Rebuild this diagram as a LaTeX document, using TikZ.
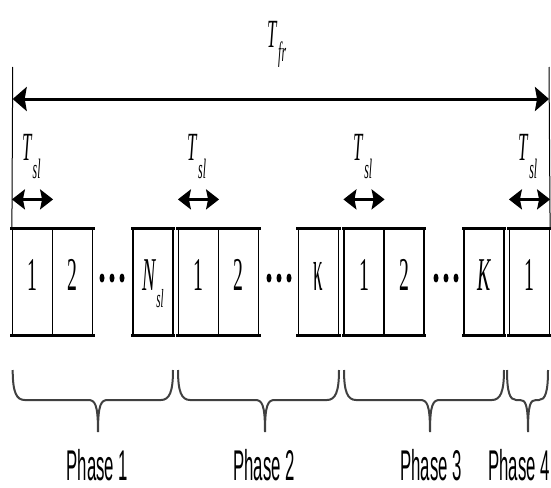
\documentclass[tikz,border=0pt]{standalone}
\usepackage{graphicx}
\usepackage{fontspec}
\setmainfont{Liberation Serif}
\newfontfamily\phasefont{Liberation Sans}
\usetikzlibrary{arrows.meta,shapes.geometric}
\newcommand\sq[1]{\scalebox{0.42}[1]{#1}}
\newcommand\tsub[4]{\textit{#1}\raisebox{-#4}{\fontsize{#3}{#3}\selectfont\textit{#2}}}
\newcommand\phasebrace[5]{%
  \draw[bracestyle] ({#1},370) .. controls ({#1},392) and ({#1+0.3*#4},400) .. ({#1+#4},400)
    -- ({#3-#5},400) .. controls ({#3-0.3*#5},400) and ({#3},404) .. ({#3},432)
    .. controls ({#3},404) and ({#3+0.3*#5},400) .. ({#3+#5},400)
    -- ({#2-#4},400) .. controls ({#2-0.3*#4},400) and ({#2},392) .. ({#2},370);}
\tikzset{
  slot/.style={draw, line width=1.2pt, minimum width=40pt, minimum height=105pt,
    inner sep=0pt, text height=32pt, text depth=16pt, font=\fontsize{47}{47}\selectfont},
  edge/.style={line width=3pt, line cap=rect},
  bigarr/.style={line width=3pt, {Stealth[length=14pt,width=24pt,inset=2pt]}-{Stealth[length=14pt,width=24pt,inset=2pt]}},
  smallarr/.style={line width=2.5pt, {Stealth[length=13pt,width=20pt,inset=2pt]}-{Stealth[length=13pt,width=20pt,inset=2pt]}},
  bound/.style={line width=1pt},
  tlabel/.style={inner sep=0pt, anchor=base, font=\fontsize{40}{40}\selectfont},
  dotn/.style={ellipse, fill, inner sep=0pt, minimum width=5pt, minimum height=9pt},
  bracestyle/.style={line width=2pt, draw=black!75},
  phaselabel/.style={inner sep=0pt, anchor=base, font=\phasefont\fontsize{43}{43}\selectfont}
}
\begin{document}
\begin{tikzpicture}[x=1pt,y=-1pt]
\fill[white] (0,0) rectangle (551,487);
\useasboundingbox (0,0) rectangle (551,487);

% frame length
\coordinate (fl) at (12.7,99);
\coordinate (fr) at (549,99);
\coordinate (flt) at (12.7,67);
\coordinate (frt) at (549,67);
\node[tlabel] (tfr) at (277,48) {\sq{\tsub{T}{fr}{28pt}{14pt}}};
\draw[bigarr] (fl) -- (fr);

% slots
\node[slot] (p1s1) at (32.5,282) {\sq{1}};
\node[slot] (p1s2) at (72.5,282) {\sq{2}};
\node[slot] (p1sN) at (153,282) {\sq{\tsub{N}{sl}{26pt}{17pt}}};
\node[slot] (p2s1) at (198.5,282) {\sq{1}};
\node[slot] (p2s2) at (238.5,282) {\sq{2}};
\node[slot] (p2sK) at (318.5,282) {\scalebox{0.4}[1.3]{κ}};
\node[slot] (p3s1) at (364,282) {\sq{1}};
\node[slot] (p3s2) at (404,282) {\sq{2}};
\node[slot] (p3sK) at (484,282) {\sq{\textit{K}}};
\node[slot] (p4s1) at (529.5,282) {\sq{1}};

\foreach \a/\b in {p1s1/p1s2, p1sN/p1sN, p2s1/p2s2, p2sK/p2sK, p3s1/p3s2, p3sK/p3sK, p4s1/p4s1}{
  \draw[edge] (\a.north west) -- (\b.north east);
  \draw[edge] (\a.south west) -- (\b.south east);
}

% boundary lines
\draw[bound] (flt) -- (p1s1.north west);
\draw[bound] (frt) -- (p4s1.north east);

% dots
\foreach \n/\x in {a/112, b/279, c/446}{
  \node[dotn] (d\n1) at (\x-10,278) {};
  \node[dotn] (d\n2) at (\x,278) {};
  \node[dotn] (d\n3) at (\x+10,278) {};
}

% slot durations
\foreach \s/\x in {p1s1/31.5, p2s1/197, p3s1/363, p4s1/528}{
  \node[tlabel] (t\s) at (\x,160) {\sq{\tsub{T}{sl}{28pt}{18pt}}};
  \draw[smallarr] ([yshift=29.5pt]\s.north west) -- ([yshift=29.5pt]\s.north east);
}

% braces
\phasebrace{12.7}{173}{98}{12}{10}
\phasebrace{178}{339}{265}{12}{10}
\phasebrace{344}{504}{430}{12}{10}
\phasebrace{507}{548}{528}{9}{8}

\node[phaselabel] (ph1) at (97.5,480) {\scalebox{0.39}[1]{Phase 1}};
\node[phaselabel] (ph2) at (264,480) {\scalebox{0.39}[1]{Phase 2}};
\node[phaselabel] (ph3) at (431,480) {\scalebox{0.39}[1]{Phase 3}};
\node[phaselabel] (ph4) at (519,480) {\scalebox{0.39}[1]{Phase 4}};
\end{tikzpicture}
\end{document}
